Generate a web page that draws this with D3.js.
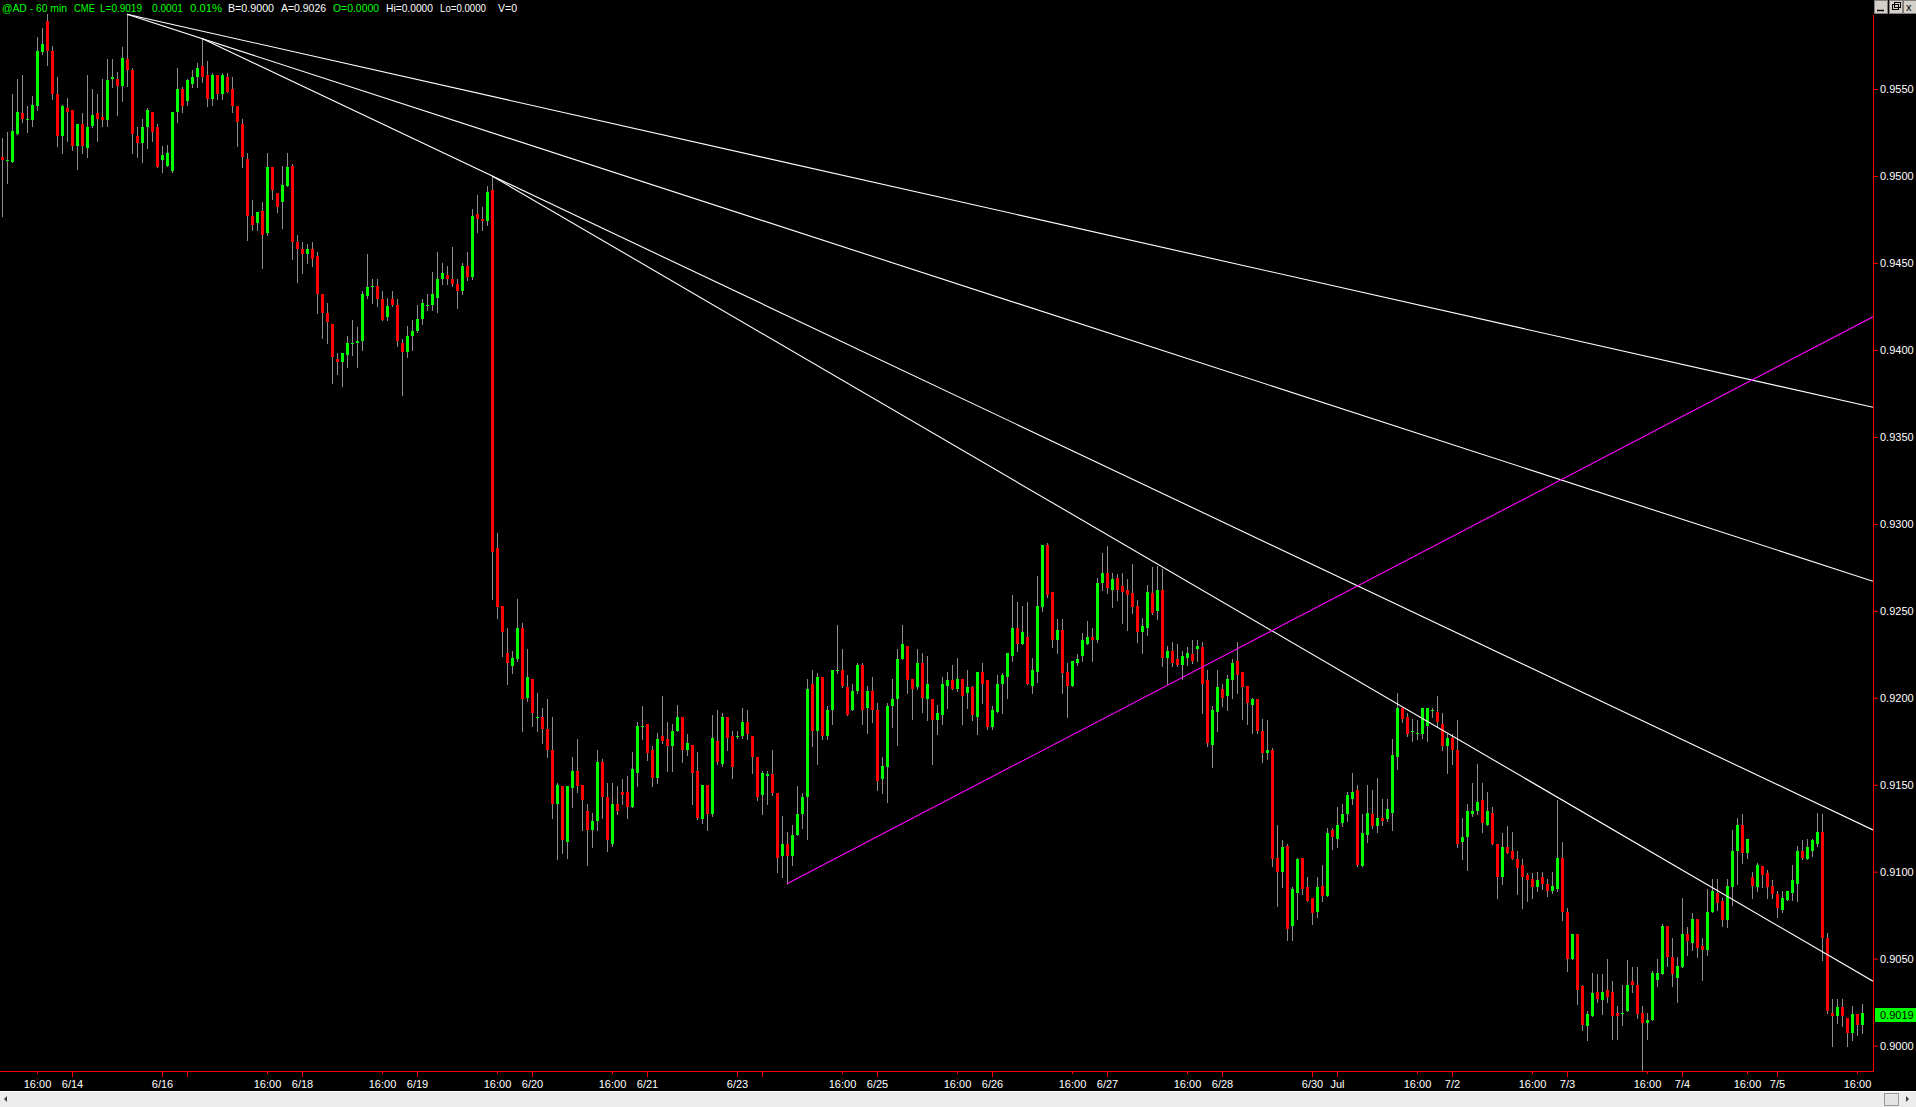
<!DOCTYPE html>
<html><head><meta charset="utf-8">
<script src="https://cdn.jsdelivr.net/npm/d3@7"></script>
<style>
html,body{margin:0;padding:0;background:#000;overflow:hidden}
svg{display:block}
text{font-family:"Liberation Sans",Arial,sans-serif;font-size:11px}
</style></head><body>
<svg id="c" width="1916" height="1107"></svg>
<script>
// ---- data: hourly candles of @AD (60 min) ----
const openP = [0.9511,0.9509,0.9508,0.9524,0.9536,0.9533,0.9532,0.9540,0.9571,0.9589,
0.9572,0.9547,0.9523,0.9539,0.9538,0.9517,0.9530,0.9516,0.9529,0.9536,
0.9534,0.9532,0.9556,0.9556,0.9552,0.9567,0.9561,0.9523,0.9519,0.9528,
0.9537,0.9528,0.9509,0.9506,0.9503,0.9537,0.9550,0.9543,0.9553,0.9557,
0.9563,0.9558,0.9544,0.9558,0.9547,0.9557,0.9550,0.9540,0.9530,0.9510,
0.9477,0.9473,0.9480,0.9467,0.9505,0.9490,0.9485,0.9494,0.9506,0.9462,
0.9458,0.9455,0.9458,0.9454,0.9432,0.9421,0.9415,0.9395,0.9393,0.9397,
0.9404,0.9404,0.9405,0.9431,0.9436,0.9437,0.9429,0.9419,0.9429,0.9426,
0.9404,0.9399,0.9408,0.9411,0.9418,0.9426,0.9426,0.9430,0.9441,0.9443,
0.9441,0.9438,0.9434,0.9448,0.9442,0.9478,0.9475,0.9474,0.9492,0.9286,
0.9253,0.9226,0.9218,0.9222,0.9240,0.9200,0.9211,0.9189,0.9189,0.9182,
0.9170,0.9139,0.9149,0.9117,0.9148,0.9158,0.9150,0.9135,0.9124,0.9129,
0.9163,0.9143,0.9116,0.9139,0.9146,0.9146,0.9137,0.9157,0.9184,0.9185,
0.9170,0.9154,0.9178,0.9176,0.9172,0.9181,0.9189,0.9170,0.9173,0.9158,
0.9130,0.9150,0.9133,0.9175,0.9162,0.9189,0.9178,0.9178,0.9178,0.9186,
0.9178,0.9166,0.9144,0.9155,0.9156,0.9145,0.9109,0.9116,0.9109,0.9121,
0.9133,0.9143,0.9208,0.9181,0.9212,0.9178,0.9193,0.9216,0.9216,0.9206,
0.9193,0.9204,0.9219,0.9194,0.9204,0.9193,0.9153,0.9160,0.9195,0.9199,
0.9222,0.9230,0.9211,0.9206,0.9220,0.9199,0.9199,0.9187,0.9190,0.9207,
0.9210,0.9205,0.9211,0.9203,0.9206,0.9189,0.9215,0.9210,0.9183,0.9192,
0.9208,0.9212,0.9224,0.9240,0.9231,0.9235,0.9207,0.9215,0.9252,0.9288,
0.9261,0.9233,0.9239,0.9215,0.9207,0.9220,0.9224,0.9231,0.9235,0.9233,
0.9266,0.9272,0.9262,0.9269,0.9264,0.9262,0.9260,0.9253,0.9238,0.9240,
0.9260,0.9250,0.9262,0.9223,0.9227,0.9222,0.9219,0.9223,0.9225,0.9228,
0.9229,0.9210,0.9173,0.9192,0.9205,0.9201,0.9210,0.9221,0.9215,0.9207,
0.9196,0.9199,0.9181,0.9168,0.9170,0.9108,0.9100,0.9115,0.9069,0.9088,
0.9108,0.9091,0.9085,0.9077,0.9092,0.9086,0.9124,0.9119,0.9128,0.9133,
0.9142,0.9147,0.9103,0.9121,0.9133,0.9126,0.9131,0.9130,0.9134,0.9166,
0.9194,0.9189,0.9181,0.9180,0.9179,0.9184,0.9193,0.9192,0.9185,0.9172,
0.9177,0.9170,0.9117,0.9120,0.9133,0.9135,0.9141,0.9127,0.9134,0.9116,
0.9097,0.9114,0.9112,0.9107,0.9104,0.9098,0.9096,0.9091,0.9097,0.9093,
0.9089,0.9090,0.9108,0.9077,0.9050,0.9064,0.9034,0.9011,0.9017,0.9031,
0.9026,0.9032,0.9031,0.9019,0.9019,0.9020,0.9037,0.9035,0.9019,0.9013,
0.9015,0.9038,0.9041,0.9069,0.9051,0.9039,0.9045,0.9064,0.9059,0.9073,
0.9057,0.9055,0.9077,0.9088,0.9083,0.9072,0.9091,0.9112,0.9127,0.9111,
0.9097,0.9091,0.9103,0.9099,0.9092,0.9087,0.9078,0.9084,0.9088,0.9093,
0.9112,0.9107,0.9112,0.9116,0.9123,0.9062,0.9019,0.9017,0.9022,0.9016,
0.9007,0.9018,0.9012];

const highP = [0.9522,0.9525,0.9547,0.9556,0.9558,0.9540,0.9546,0.9580,0.9585,0.9593,
0.9575,0.9557,0.9541,0.9545,0.9538,0.9530,0.9536,0.9558,0.9550,0.9547,
0.9556,0.9567,0.9567,0.9560,0.9574,0.9593,0.9562,0.9528,0.9533,0.9539,
0.9537,0.9530,0.9517,0.9518,0.9537,0.9562,0.9551,0.9556,0.9561,0.9565,
0.9579,0.9566,0.9559,0.9558,0.9559,0.9559,0.9557,0.9540,0.9533,0.9513,
0.9486,0.9479,0.9485,0.9513,0.9505,0.9490,0.9506,0.9513,0.9507,0.9466,
0.9462,0.9461,0.9462,0.9456,0.9432,0.9427,0.9415,0.9398,0.9398,0.9408,
0.9417,0.9413,0.9434,0.9455,0.9441,0.9441,0.9434,0.9430,0.9434,0.9429,
0.9406,0.9414,0.9417,0.9426,0.9429,0.9432,0.9445,0.9456,0.9450,0.9448,
0.9459,0.9441,0.9450,0.9456,0.9481,0.9489,0.9482,0.9494,0.9500,0.9295,
0.9253,0.9240,0.9227,0.9257,0.9243,0.9228,0.9211,0.9203,0.9194,0.9199,
0.9189,0.9151,0.9149,0.9149,0.9166,0.9176,0.9150,0.9139,0.9134,0.9170,
0.9165,0.9151,0.9151,0.9149,0.9153,0.9155,0.9169,0.9186,0.9195,0.9185,
0.9172,0.9180,0.9201,0.9186,0.9185,0.9196,0.9189,0.9179,0.9173,0.9169,
0.9150,0.9150,0.9190,0.9193,0.9191,0.9189,0.9181,0.9181,0.9194,0.9193,
0.9178,0.9166,0.9158,0.9158,0.9170,0.9145,0.9132,0.9123,0.9127,0.9149,
0.9145,0.9211,0.9216,0.9214,0.9212,0.9195,0.9216,0.9242,0.9228,0.9213,
0.9208,0.9220,0.9220,0.9207,0.9212,0.9197,0.9166,0.9197,0.9211,0.9228,
0.9242,0.9230,0.9211,0.9228,0.9226,0.9224,0.9199,0.9196,0.9212,0.9215,
0.9219,0.9223,0.9211,0.9216,0.9207,0.9215,0.9220,0.9210,0.9195,0.9213,
0.9214,0.9226,0.9259,0.9255,0.9253,0.9255,0.9223,0.9270,0.9288,0.9289,
0.9261,0.9245,0.9245,0.9220,0.9221,0.9225,0.9237,0.9244,0.9240,0.9269,
0.9283,0.9287,0.9272,0.9271,0.9272,0.9268,0.9277,0.9256,0.9246,0.9265,
0.9275,0.9276,0.9274,0.9230,0.9232,0.9231,0.9227,0.9229,0.9233,0.9233,
0.9232,0.9216,0.9195,0.9216,0.9208,0.9213,0.9222,0.9232,0.9215,0.9207,
0.9200,0.9199,0.9188,0.9187,0.9171,0.9127,0.9118,0.9116,0.9091,0.9108,
0.9108,0.9097,0.9085,0.9097,0.9104,0.9125,0.9125,0.9137,0.9139,0.9146,
0.9157,0.9150,0.9133,0.9150,0.9147,0.9154,0.9142,0.9142,0.9176,0.9203,
0.9194,0.9191,0.9188,0.9187,0.9194,0.9194,0.9194,0.9201,0.9191,0.9179,
0.9179,0.9187,0.9131,0.9139,0.9151,0.9162,0.9151,0.9146,0.9137,0.9116,
0.9122,0.9126,0.9123,0.9112,0.9107,0.9099,0.9099,0.9100,0.9100,0.9096,
0.9100,0.9141,0.9117,0.9079,0.9064,0.9064,0.9035,0.9020,0.9042,0.9041,
0.9041,0.9050,0.9037,0.9023,0.9035,0.9049,0.9045,0.9045,0.9023,0.9019,
0.9043,0.9050,0.9070,0.9069,0.9062,0.9051,0.9085,0.9068,0.9076,0.9073,
0.9062,0.9090,0.9096,0.9096,0.9085,0.9096,0.9124,0.9131,0.9133,0.9119,
0.9100,0.9105,0.9103,0.9101,0.9095,0.9089,0.9089,0.9089,0.9104,0.9115,
0.9118,0.9119,0.9119,0.9134,0.9133,0.9065,0.9027,0.9027,0.9027,0.9016,
0.9023,0.9018,0.9024];

const lowP = [0.9477,0.9496,0.9508,0.9524,0.9531,0.9525,0.9529,0.9538,0.9570,0.9564,
0.9544,0.9517,0.9513,0.9520,0.9515,0.9504,0.9513,0.9511,0.9528,0.9520,
0.9529,0.9529,0.9551,0.9535,0.9543,0.9552,0.9513,0.9511,0.9508,0.9516,
0.9520,0.9505,0.9502,0.9506,0.9502,0.9531,0.9537,0.9541,0.9551,0.9551,
0.9554,0.9540,0.9541,0.9544,0.9544,0.9548,0.9537,0.9517,0.9505,0.9463,
0.9469,0.9469,0.9447,0.9466,0.9487,0.9479,0.9470,0.9494,0.9452,0.9439,
0.9444,0.9450,0.9448,0.9421,0.9407,0.9404,0.9381,0.9386,0.9379,0.9390,
0.9397,0.9390,0.9400,0.9430,0.9427,0.9425,0.9417,0.9417,0.9425,0.9402,
0.9374,0.9396,0.9400,0.9410,0.9415,0.9423,0.9423,0.9422,0.9438,0.9438,
0.9437,0.9424,0.9432,0.9440,0.9441,0.9468,0.9469,0.9472,0.9257,0.9246,
0.9224,0.9208,0.9214,0.9221,0.9181,0.9198,0.9184,0.9181,0.9174,0.9166,
0.9131,0.9107,0.9111,0.9108,0.9137,0.9146,0.9124,0.9104,0.9114,0.9124,
0.9131,0.9112,0.9115,0.9133,0.9139,0.9131,0.9137,0.9149,0.9176,0.9164,
0.9149,0.9151,0.9174,0.9158,0.9158,0.9181,0.9163,0.9167,0.9139,0.9130,
0.9128,0.9124,0.9132,0.9162,0.9161,0.9170,0.9154,0.9177,0.9177,0.9176,
0.9157,0.9141,0.9133,0.9139,0.9144,0.9100,0.9097,0.9093,0.9104,0.9121,
0.9125,0.9119,0.9172,0.9162,0.9176,0.9176,0.9185,0.9214,0.9206,0.9190,
0.9193,0.9203,0.9185,0.9180,0.9186,0.9147,0.9145,0.9140,0.9183,0.9173,
0.9222,0.9203,0.9188,0.9205,0.9192,0.9187,0.9162,0.9179,0.9185,0.9194,
0.9205,0.9204,0.9185,0.9194,0.9187,0.9179,0.9197,0.9182,0.9182,0.9192,
0.9191,0.9200,0.9221,0.9227,0.9231,0.9208,0.9203,0.9209,0.9250,0.9258,
0.9229,0.9226,0.9203,0.9189,0.9207,0.9219,0.9221,0.9231,0.9221,0.9232,
0.9262,0.9260,0.9252,0.9256,0.9243,0.9239,0.9249,0.9232,0.9226,0.9236,
0.9248,0.9245,0.9218,0.9208,0.9218,0.9218,0.9211,0.9219,0.9220,0.9221,
0.9191,0.9172,0.9160,0.9181,0.9195,0.9193,0.9200,0.9203,0.9188,0.9185,
0.9180,0.9180,0.9163,0.9165,0.9103,0.9080,0.9091,0.9061,0.9061,0.9073,
0.9087,0.9083,0.9070,0.9074,0.9083,0.9086,0.9113,0.9114,0.9126,0.9129,
0.9139,0.9103,0.9103,0.9117,0.9125,0.9123,0.9127,0.9129,0.9124,0.9159,
0.9186,0.9178,0.9175,0.9176,0.9177,0.9175,0.9189,0.9183,0.9170,0.9157,
0.9162,0.9114,0.9107,0.9101,0.9132,0.9133,0.9123,0.9127,0.9116,0.9085,
0.9093,0.9111,0.9107,0.9087,0.9079,0.9083,0.9085,0.9089,0.9090,0.9086,
0.9088,0.9089,0.9072,0.9043,0.9050,0.9024,0.9009,0.9003,0.9017,0.9025,
0.9018,0.9025,0.9004,0.9004,0.9012,0.9020,0.9031,0.9016,0.8986,0.9004,
0.9015,0.9034,0.9041,0.9046,0.9034,0.9025,0.9045,0.9052,0.9055,0.9051,
0.9038,0.9052,0.9077,0.9078,0.9069,0.9068,0.9081,0.9093,0.9105,0.9108,
0.9085,0.9089,0.9091,0.9085,0.9085,0.9074,0.9077,0.9084,0.9084,0.9083,
0.9107,0.9107,0.9109,0.9115,0.9049,0.9019,0.9000,0.9013,0.9011,0.9000,
0.9003,0.9006,0.9007];

const closeP = [0.9509,0.9509,0.9526,0.9537,0.9533,0.9533,0.9541,0.9572,0.9576,0.9572,
0.9547,0.9523,0.9540,0.9537,0.9517,0.9530,0.9517,0.9528,0.9535,0.9533,
0.9532,0.9555,0.9557,0.9552,0.9568,0.9561,0.9524,0.9519,0.9528,0.9538,
0.9525,0.9505,0.9512,0.9513,0.9537,0.9550,0.9540,0.9555,0.9557,0.9562,
0.9557,0.9544,0.9558,0.9547,0.9558,0.9548,0.9540,0.9531,0.9511,0.9477,
0.9472,0.9479,0.9466,0.9505,0.9492,0.9482,0.9495,0.9505,0.9462,0.9458,
0.9455,0.9458,0.9452,0.9432,0.9421,0.9416,0.9396,0.9393,0.9398,0.9404,
0.9404,0.9405,0.9432,0.9436,0.9437,0.9429,0.9417,0.9425,0.9426,0.9405,
0.9399,0.9408,0.9411,0.9418,0.9427,0.9426,0.9432,0.9441,0.9444,0.9441,
0.9438,0.9434,0.9448,0.9442,0.9477,0.9475,0.9474,0.9491,0.9284,0.9252,
0.9238,0.9220,0.9223,0.9240,0.9199,0.9212,0.9191,0.9189,0.9182,0.9170,
0.9139,0.9150,0.9118,0.9149,0.9158,0.9149,0.9141,0.9124,0.9129,0.9163,
0.9143,0.9118,0.9139,0.9135,0.9144,0.9137,0.9159,0.9184,0.9184,0.9168,
0.9154,0.9176,0.9175,0.9172,0.9181,0.9189,0.9170,0.9174,0.9157,0.9131,
0.9150,0.9133,0.9177,0.9163,0.9189,0.9177,0.9160,0.9178,0.9186,0.9179,
0.9166,0.9143,0.9157,0.9156,0.9145,0.9108,0.9116,0.9109,0.9121,0.9133,
0.9143,0.9205,0.9181,0.9212,0.9178,0.9193,0.9216,0.9216,0.9207,0.9190,
0.9204,0.9219,0.9193,0.9204,0.9193,0.9152,0.9161,0.9195,0.9199,0.9222,
0.9231,0.9210,0.9205,0.9220,0.9200,0.9208,0.9187,0.9191,0.9208,0.9210,
0.9205,0.9211,0.9201,0.9206,0.9190,0.9215,0.9208,0.9183,0.9193,0.9208,
0.9213,0.9226,0.9240,0.9231,0.9238,0.9208,0.9216,0.9253,0.9288,0.9259,
0.9233,0.9239,0.9214,0.9207,0.9221,0.9222,0.9233,0.9235,0.9233,0.9266,
0.9272,0.9263,0.9268,0.9262,0.9261,0.9259,0.9252,0.9238,0.9241,0.9261,
0.9249,0.9262,0.9223,0.9227,0.9220,0.9219,0.9224,0.9226,0.9221,0.9230,
0.9208,0.9174,0.9193,0.9206,0.9200,0.9211,0.9220,0.9213,0.9206,0.9197,
0.9199,0.9181,0.9168,0.9170,0.9107,0.9100,0.9114,0.9067,0.9090,0.9107,
0.9090,0.9083,0.9076,0.9091,0.9086,0.9122,0.9120,0.9127,0.9133,0.9144,
0.9146,0.9104,0.9122,0.9134,0.9126,0.9131,0.9129,0.9136,0.9167,0.9194,
0.9188,0.9179,0.9181,0.9180,0.9194,0.9194,0.9193,0.9186,0.9172,0.9177,
0.9170,0.9116,0.9120,0.9135,0.9135,0.9140,0.9128,0.9135,0.9116,0.9097,
0.9114,0.9111,0.9107,0.9102,0.9097,0.9095,0.9091,0.9095,0.9093,0.9089,
0.9092,0.9108,0.9077,0.9050,0.9064,0.9032,0.9012,0.9018,0.9030,0.9027,
0.9031,0.9028,0.9017,0.9017,0.9019,0.9035,0.9035,0.9018,0.9013,0.9015,
0.9042,0.9042,0.9069,0.9051,0.9041,0.9046,0.9064,0.9060,0.9073,0.9056,
0.9055,0.9077,0.9089,0.9082,0.9072,0.9092,0.9112,0.9127,0.9111,0.9119,
0.9092,0.9104,0.9098,0.9091,0.9087,0.9079,0.9085,0.9089,0.9095,0.9112,
0.9108,0.9114,0.9118,0.9123,0.9062,0.9020,0.9017,0.9022,0.9017,0.9007,
0.9018,0.9012,0.9019];

// right price axis ticks
const priceTicks = [0.9000,0.9050,0.9100,0.9150,0.9200,0.9250,0.9300,0.9350,0.9400,0.9450,0.9500,0.9550];
// time axis: bar index of each tick and its label
const timeTickIdx = [7,14,32,37,53,60,76,83,99,106,122,129,147,152,168,175,191,198,214,221,237,244,262,267,283,290,306,313,329,336,349,355,371];
const timeTickLbl = ["16:00","6/14","6/16","","16:00","6/18","16:00","6/19","16:00","6/20","16:00","6/21","6/23","","16:00","6/25","16:00","6/26","16:00","6/27","16:00","6/28","6/30","Jul","16:00","7/2","16:00","7/3","16:00","7/4","16:00","7/5","16:00"];
// drawn trend lines: [bar, price] start and end
const trendStartIdx = [25, 25, 40, 98];
const trendStartPx  = [0.9593, 0.9593, 0.9579, 0.9500];
const trendEndIdx   = [374.2, 374.2, 374.2, 374.2];
const trendEndPx    = [0.9367, 0.9267, 0.9124, 0.9037];
const supportStart = [157, 0.9093];
const supportEnd   = [374.2, 0.9419];
const lastPrice = 0.9019;
// quote header line
const headerText = ["@AD - 60 min", "CME", "L=0.9019", "0.0001", "0.01%", "B=0.9000", "A=0.9026", "O=0.0000", "Hi=0.0000", "Lo=0.0000", "V=0"];

// ---- drawing ----
const W = 1916, H = 1107, plotR = 1873, plotB = 1071;
const GREEN = "#00ff00", RED = "#ff0000", WHITE = "#ffffff";
const svg = d3.select("#c");
svg.append("rect").attr("width", W).attr("height", H).attr("fill", "#000");

const x = d3.scaleLinear().domain([0, 372]).range([2, 1862]);
const y = d3.scaleLinear().domain([0.9000, 0.9550]).range([1045.6, 89]);

svg.append("defs").append("clipPath").attr("id", "plot")
  .append("rect").attr("x", 0).attr("y", 0).attr("width", plotR).attr("height", plotB);

const g = svg.append("g").attr("clip-path", "url(#plot)");
const idx = d3.range(closeP.length);

// wicks
g.selectAll("line.wick").data(idx).join("line").attr("class", "wick")
  .attr("x1", i => Math.round(x(i)) + 0.5).attr("x2", i => Math.round(x(i)) + 0.5)
  .attr("y1", i => Math.round(y(highP[i]))).attr("y2", i => Math.round(y(lowP[i])) + 1)
  .attr("stroke", "#8c8c8c").attr("stroke-width", 1);

// bodies
g.selectAll("rect.body").data(idx).join("rect").attr("class", "body")
  .attr("x", i => Math.round(x(i)) - 1).attr("width", 3)
  .attr("y", i => Math.round(y(Math.max(openP[i], closeP[i]))))
  .attr("height", i => Math.max(1, Math.round(y(Math.min(openP[i], closeP[i]))) - Math.round(y(Math.max(openP[i], closeP[i])))))
  .attr("fill", i => closeP[i] >= openP[i] ? GREEN : RED);

// trend lines
g.selectAll("line.trend").data(trendStartIdx.map((d, k) => k)).join("line").attr("class", "trend")
  .attr("x1", k => x(trendStartIdx[k])).attr("y1", k => y(trendStartPx[k]))
  .attr("x2", k => x(trendEndIdx[k])).attr("y2", k => y(trendEndPx[k]))
  .attr("stroke", WHITE).attr("stroke-width", 1.1);
g.append("line")
  .attr("x1", x(supportStart[0])).attr("y1", y(supportStart[1]))
  .attr("x2", x(supportEnd[0])).attr("y2", y(supportEnd[1]))
  .attr("stroke", "#ff00ff").attr("stroke-width", 1.1);

// right price axis
const yAxis = d3.axisRight(y).tickValues(priceTicks).tickFormat(d3.format(".4f")).tickSize(5).tickPadding(2);
const ya = svg.append("g").attr("transform", `translate(${plotR},0)`).call(yAxis);
ya.select(".domain").remove();
ya.selectAll(".tick line").attr("stroke", RED);
ya.selectAll(".tick text").attr("fill", WHITE).attr("font-size", 11)
  .attr("font-family", '"Liberation Sans",Arial,sans-serif');

// red axis frame
svg.append("line").attr("x1", plotR + 0.5).attr("x2", plotR + 0.5).attr("y1", 15).attr("y2", plotB + 1)
  .attr("stroke", RED).attr("stroke-width", 1);
svg.append("line").attr("x1", 0).attr("x2", plotR + 1).attr("y1", plotB + 0.5).attr("y2", plotB + 0.5)
  .attr("stroke", RED).attr("stroke-width", 1);

// bottom time axis
const xAxis = d3.axisBottom(x).tickValues(timeTickIdx)
  .tickFormat((d, k) => timeTickLbl[k]).tickSize(6).tickPadding(3);
const xa = svg.append("g").attr("transform", `translate(0,${plotB})`).call(xAxis);
xa.select(".domain").remove();
xa.selectAll(".tick line").attr("stroke", RED)
  .attr("y2", (d, k) => timeTickLbl[k] === "16:00" ? 3 : 6);
xa.selectAll(".tick text").attr("fill", WHITE).attr("font-size", 11)
  .attr("font-family", '"Liberation Sans",Arial,sans-serif');

// last price tag
const ly = y(lastPrice);
svg.append("rect").attr("x", plotR + 2).attr("y", Math.round(ly) - 5).attr("width", W - plotR - 2).attr("height", 14).attr("fill", GREEN);
svg.append("text").attr("x", plotR + 7).attr("y", Math.round(ly) + 6).attr("fill", "#000").text(d3.format(".4f")(lastPrice));

// header (layout: left x, width, colour for each piece)
const hdrLayout = [[2, 65, GREEN], [74, 21, GREEN], [100, 42, GREEN], [152, 31, GREEN], [190, 32, GREEN],
  [228, 46, WHITE], [281, 45, WHITE], [333, 46, GREEN], [386, 47, WHITE], [440, 46, WHITE], [498, 19, WHITE]];
svg.selectAll("text.hdr").data(headerText).join("text").attr("class", "hdr")
  .attr("x", (d, k) => hdrLayout[k][0]).attr("y", 12)
  .attr("textLength", (d, k) => hdrLayout[k][1]).attr("lengthAdjust", "spacingAndGlyphs")
  .attr("fill", (d, k) => hdrLayout[k][2]).text(d => d);

// window buttons (top right)
const btnG = svg.append("g");
[1874, 1889, 1903].forEach(bx => {
  btnG.append("rect").attr("x", bx + 0.5).attr("y", 0.5).attr("width", 13).attr("height", 13)
    .attr("fill", "#d4d0c8").attr("stroke", "#808080");
});
btnG.append("line").attr("x1", 1877).attr("x2", 1884).attr("y1", 10.5).attr("y2", 10.5).attr("stroke", "#000").attr("stroke-width", 1.5);
btnG.append("rect").attr("x", 1892.5).attr("y", 4.5).attr("width", 6).attr("height", 5).attr("fill", "none").attr("stroke", "#000");
btnG.append("rect").attr("x", 1894.5).attr("y", 2.5).attr("width", 6).attr("height", 5).attr("fill", "none").attr("stroke", "#000");
btnG.append("text").attr("x", 1906).attr("y", 11).attr("fill", "#000").attr("font-size", 10).text("x");

// bottom scroll bar
svg.append("rect").attr("x", 0).attr("y", 1091).attr("width", W).attr("height", 16).attr("fill", "#ececec");
svg.append("line").attr("x1", 0).attr("x2", W).attr("y1", 1091.5).attr("y2", 1091.5).attr("stroke", WHITE);
svg.append("path").attr("d", "M4,1099 L7,1096 L7,1102 Z").attr("fill", "#404040");
svg.append("rect").attr("x", 1884.5).attr("y", 1093.5).attr("width", 14).attr("height", 12).attr("fill", "#e4e4e4").attr("stroke", "#9a9a9a");
svg.append("path").attr("d", "M1906,1096 L1909,1099 L1906,1102 Z").attr("fill", "#404040");
</script>
</body></html>
